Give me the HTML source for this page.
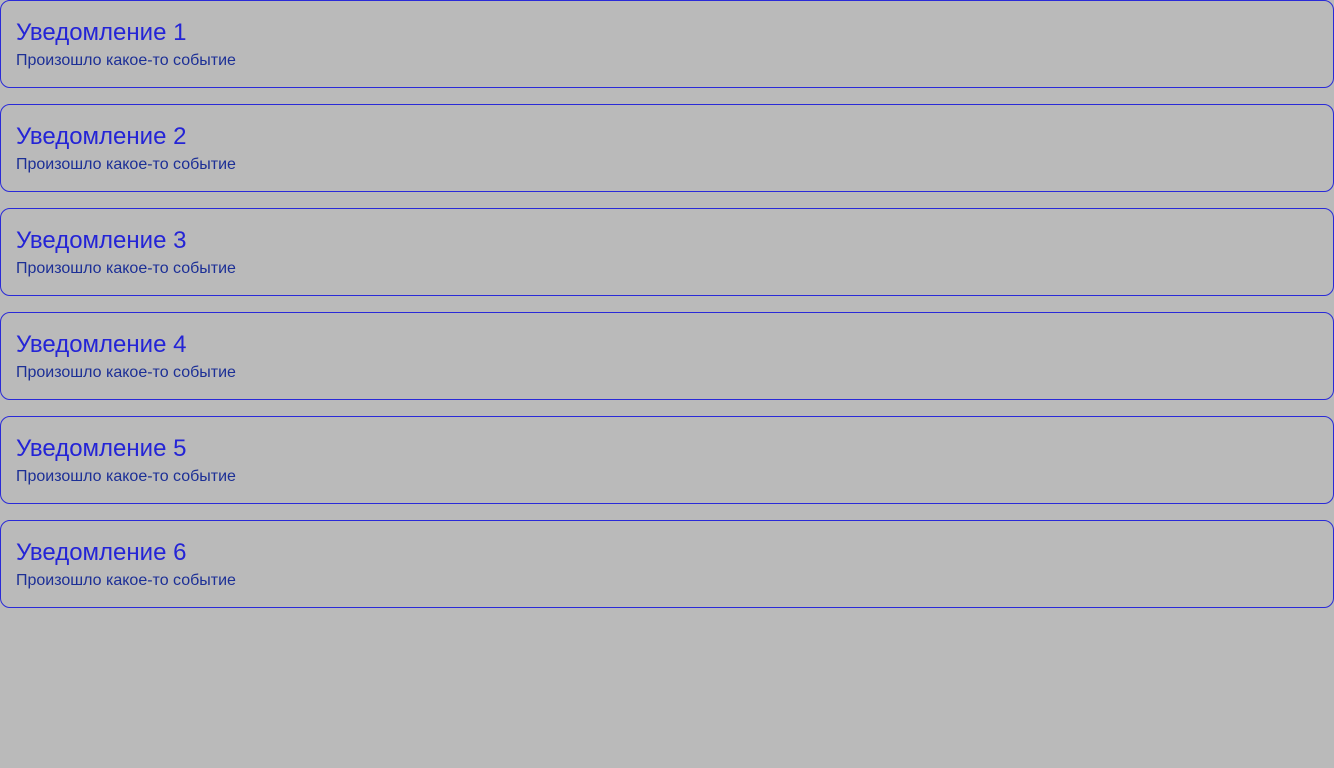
<!DOCTYPE html>
<html><head><meta charset="utf-8">
<style>
html,body{margin:0;padding:0;background:#bababa;width:1334px;height:768px;overflow:hidden;font-family:"Liberation Sans",Arial,sans-serif;}
.card{position:absolute;left:0;width:1332px;height:86px;border:1px solid #2a2ad8;border-radius:10px;box-sizing:content-box;}
.title{position:absolute;left:15px;top:18px;font-size:24px;line-height:28px;color:#2424d6;white-space:nowrap;}
.sub{position:absolute;left:15px;top:50px;font-size:16px;line-height:20px;color:#1c2f96;white-space:nowrap;}
</style></head><body>
<div>
<div class="card" style="top:0"><div class="title">Уведомление 1</div><div class="sub">Произошло какое-то событие</div></div>
<div class="card" style="top:104px"><div class="title">Уведомление 2</div><div class="sub">Произошло какое-то событие</div></div>
<div class="card" style="top:208px"><div class="title">Уведомление 3</div><div class="sub">Произошло какое-то событие</div></div>
<div class="card" style="top:312px"><div class="title">Уведомление 4</div><div class="sub">Произошло какое-то событие</div></div>
<div class="card" style="top:416px"><div class="title">Уведомление 5</div><div class="sub">Произошло какое-то событие</div></div>
<div class="card" style="top:520px"><div class="title">Уведомление 6</div><div class="sub">Произошло какое-то событие</div></div>
</div>
</body></html>
